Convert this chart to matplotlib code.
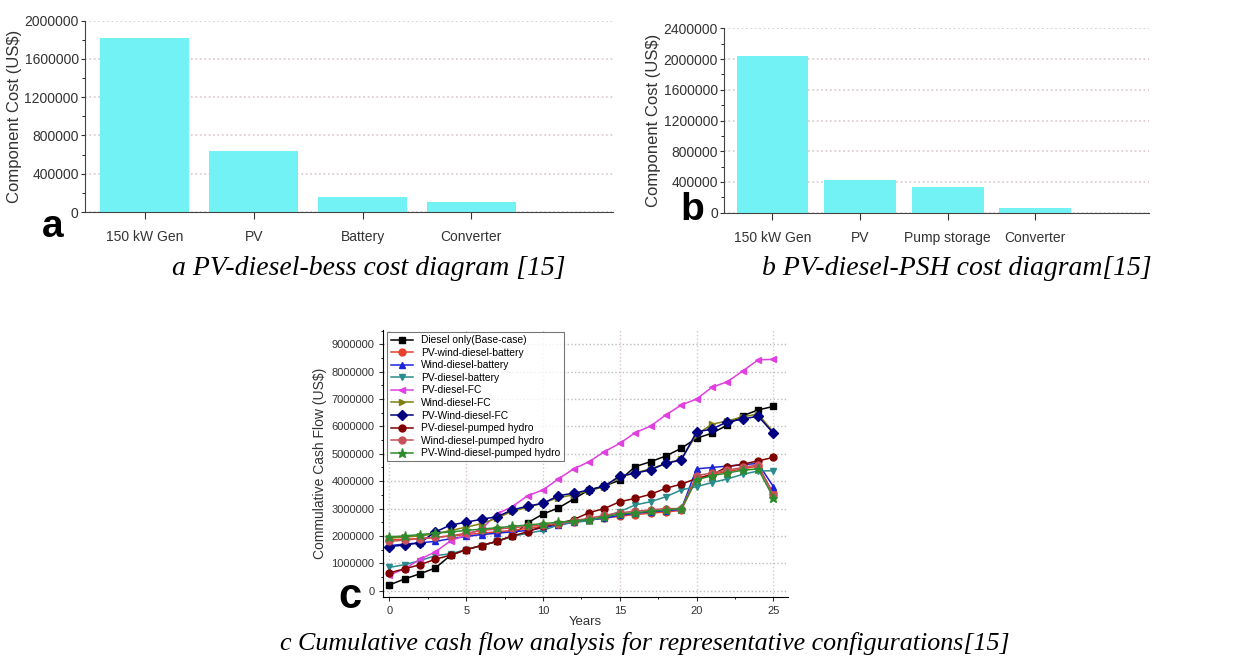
import matplotlib.pyplot as plt
from matplotlib.ticker import MultipleLocator, AutoMinorLocator

plt.rcParams['font.family'] = ['Liberation Sans', 'DejaVu Sans']

# panel a / b data
a_labels = ["150 kW Gen", "PV", "Battery", "Converter"]
a_costs = [1815000, 638000, 154000, 105000]

b_labels = ["150 kW Gen", "PV", "Pump storage", "Converter"]
b_costs = [2040000, 425000, 338000, 65000]

# panel c data (millions of US$ per year 0..25)
years = list(range(26))
diesel_only = [0.21, 0.43, 0.62, 0.83, 1.30, 1.50, 1.65, 1.80, 2.00, 2.48, 2.80, 3.02,
               3.35, 3.68, 3.82, 4.04, 4.53, 4.71, 4.92, 5.20, 5.57, 5.75, 6.05, 6.39, 6.60, 6.73]
pv_wind_diesel_batt = [1.85, 1.88, 1.90, 1.95, 2.00, 2.05, 2.10, 2.15, 2.20, 2.28, 2.35, 2.45,
                       2.50, 2.58, 2.65, 2.72, 2.78, 2.83, 2.88, 2.93, 4.10, 4.25, 4.35, 4.45, 4.55, 3.55]
wind_diesel_batt = [1.65, 1.70, 1.75, 1.80, 1.90, 1.98, 2.05, 2.10, 2.15, 2.20, 2.30, 2.40,
                    2.50, 2.58, 2.65, 2.75, 2.83, 2.88, 2.92, 2.97, 4.45, 4.50, 4.55, 4.60, 4.65, 3.80]
pv_diesel_batt = [0.85, 0.95, 1.10, 1.28, 1.35, 1.50, 1.65, 1.80, 1.98, 2.10, 2.20, 2.40,
                  2.50, 2.55, 2.70, 2.89, 3.13, 3.25, 3.43, 3.68, 3.80, 3.95, 4.08, 4.25, 4.37, 4.38]
pv_diesel_fc = [0.57, 0.80, 1.15, 1.42, 1.83, 2.03, 2.25, 2.80, 3.07, 3.47, 3.68, 4.08,
                4.45, 4.71, 5.08, 5.38, 5.77, 6.01, 6.42, 6.78, 7.00, 7.43, 7.63, 8.02, 8.43, 8.45]
wind_diesel_fc = [1.92, 1.96, 2.00, 2.08, 2.20, 2.32, 2.45, 2.65, 2.90, 3.05, 3.20, 3.40,
                  3.50, 3.65, 3.80, 4.15, 4.30, 4.45, 4.65, 4.80, 5.70, 6.08, 6.20, 6.35, 6.45, 5.80]
pv_wind_diesel_fc = [1.61, 1.67, 1.75, 2.15, 2.40, 2.50, 2.61, 2.70, 2.95, 3.09, 3.19, 3.47,
                     3.56, 3.68, 3.82, 4.19, 4.29, 4.41, 4.65, 4.77, 5.80, 5.90, 6.17, 6.26, 6.38, 5.75]
pv_diesel_ph = [0.65, 0.80, 0.95, 1.15, 1.30, 1.50, 1.65, 1.80, 2.00, 2.15, 2.35, 2.45,
                2.60, 2.85, 3.00, 3.25, 3.37, 3.52, 3.74, 3.89, 4.10, 4.23, 4.53, 4.62, 4.74, 4.87]
wind_diesel_ph = [1.80, 1.85, 1.90, 1.95, 2.00, 2.10, 2.20, 2.25, 2.30, 2.35, 2.40, 2.45,
                  2.55, 2.65, 2.75, 2.85, 2.90, 2.95, 3.00, 3.00, 4.20, 4.30, 4.40, 4.50, 4.60, 3.50]
pv_wind_diesel_ph = [1.97, 2.00, 2.05, 2.10, 2.15, 2.20, 2.25, 2.30, 2.35, 2.40, 2.45, 2.50,
                     2.55, 2.60, 2.70, 2.80, 2.85, 2.90, 2.95, 3.00, 4.05, 4.20, 4.30, 4.40, 4.45, 3.40]

series = [
    ("Diesel only(Base-case)", diesel_only, "black", "s"),
    ("PV-wind-diesel-battery", pv_wind_diesel_batt, "#e8402c", "o"),
    ("Wind-diesel-battery", wind_diesel_batt, "#1c24d8", "^"),
    ("PV-diesel-battery", pv_diesel_batt, "#2a8c8c", "v"),
    ("PV-diesel-FC", pv_diesel_fc, "#e040e0", "<"),
    ("Wind-diesel-FC", wind_diesel_fc, "#808010", ">"),
    ("PV-Wind-diesel-FC", pv_wind_diesel_fc, "#000080", "D"),
    ("PV-diesel-pumped hydro", pv_diesel_ph, "#800000", "o"),
    ("Wind-diesel-pumped hydro", wind_diesel_ph, "#c8505a", "o"),
    ("PV-Wind-diesel-pumped hydro", pv_wind_diesel_ph, "#2e8b2e", "*"),
]

bar_color = "#72f2f5"
grid_color = "#d9c6d2"

fig = plt.figure(figsize=(12.57, 6.59), dpi=100)


def bar_panel(rect, labels, costs, ymax, step, letter, letter_pos):
    ax = fig.add_axes(rect)
    ax.bar(range(len(labels)), costs, width=0.82, color=bar_color, zorder=2)
    ax.set_ylim(0, ymax)
    ax.set_xlim(-0.55, 4.3)
    ax.yaxis.set_major_locator(MultipleLocator(step))
    ax.yaxis.set_minor_locator(AutoMinorLocator(2))
    ax.ticklabel_format(axis="y", style="plain", useOffset=False)
    ax.set_xticks(range(len(labels)))
    ax.set_xticklabels(labels)
    ax.grid(axis="y", color=grid_color, linestyle=":", linewidth=1.2, zorder=0)
    for s in ["top", "right"]:
        ax.spines[s].set_visible(False)
    ax.spines["left"].set_color("#444444")
    ax.spines["bottom"].set_color("#444444")
    ax.tick_params(axis="both", labelsize=10, colors="#333333")
    ax.tick_params(axis="x", length=5, pad=8)
    ax.tick_params(axis="y", which="major", length=3, pad=1.5)
    ax.tick_params(axis="y", which="minor", length=2)
    ax.set_ylabel("Component Cost (US$)", fontsize=12, color="#333333", labelpad=2)
    fig.text(letter_pos[0], letter_pos[1], letter, fontsize=28, fontweight="bold",
             ha="center", va="center")
    return ax


bar_panel([0.0676, 0.6783, 0.42, 0.2903], a_labels, a_costs, 2000000, 400000,
          "a", (0.042, 0.655))
bar_panel([0.5762, 0.6772, 0.338, 0.2798], b_labels, b_costs, 2400000, 400000,
          "b", (0.551, 0.681))

axc = fig.add_axes([0.305, 0.0945, 0.322, 0.4047])
for name, vals, color, marker in series:
    ms = 6.5 if marker == "*" else 5
    axc.plot(years, [v * 1e6 for v in vals], color=color, marker=marker, markersize=ms,
             linewidth=1.1, markeredgecolor=color, label=name)
axc.set_xlim(-0.39, 25.96)
axc.set_ylim(-220000, 9520000)
axc.xaxis.set_major_locator(MultipleLocator(5))
axc.xaxis.set_minor_locator(AutoMinorLocator(2))
axc.yaxis.set_major_locator(MultipleLocator(1000000))
axc.yaxis.set_minor_locator(AutoMinorLocator(2))
axc.ticklabel_format(axis="y", style="plain", useOffset=False)
axc.grid(axis="y", color="#bbbbbb", linestyle=":", linewidth=1.0)
axc.grid(axis="x", color=grid_color, linestyle=":", linewidth=1.0)
for s in ["top", "right"]:
    axc.spines[s].set_visible(False)
axc.tick_params(axis="both", labelsize=8, colors="#333333", length=3)
axc.tick_params(axis="both", which="minor", length=1.5)
axc.set_xlabel("Years", fontsize=9.5, color="#333333", labelpad=0)
axc.set_ylabel("Commulative Cash Flow (US$)", fontsize=10, color="#333333", labelpad=3)
leg = axc.legend(loc="upper left", fontsize=7.4, frameon=True, fancybox=False,
                 borderpad=0.3, labelspacing=0.25, handlelength=2.2,
                 bbox_to_anchor=(0.005, 1.0), borderaxespad=0.2)
leg.get_frame().set_edgecolor("#555555")
leg.get_frame().set_linewidth(0.8)
fig.text(0.278, 0.094, "c", fontsize=30, fontweight="bold", ha="center", va="center")

cap = dict(fontstyle="italic", family=["Liberation Serif", "DejaVu Serif"],
           ha="center", va="center")
fig.text(0.293, 0.592, "a PV-diesel-bess cost diagram [15]", fontsize=20, **cap)
fig.text(0.761, 0.592, "b PV-diesel-PSH cost diagram[15]", fontsize=20, **cap)
fig.text(0.513, 0.023, "c Cumulative cash flow analysis for representative configurations[15]",
         fontsize=18.7, **cap)

fig.savefig("out.png", dpi=100)
